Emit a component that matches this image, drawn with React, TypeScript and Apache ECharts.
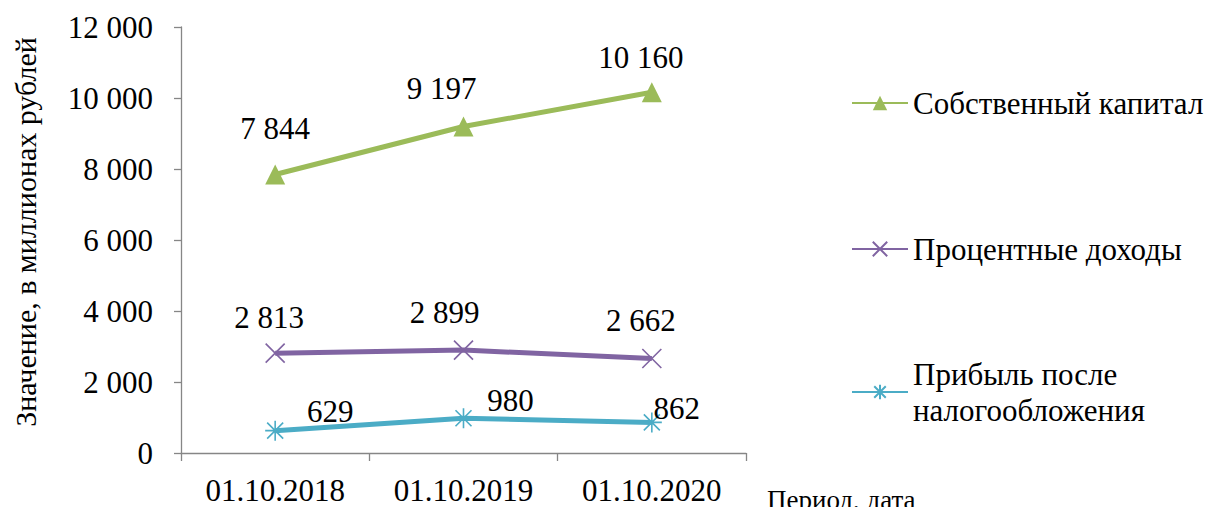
import React, { useEffect, useRef } from "react";
import * as echarts from "echarts";

const categories = ["01.10.2018", "01.10.2019", "01.10.2020"];
const seriesNames = ["Собственный капитал", "Процентные доходы", "Прибыль после налогообложения"];
const equity = [7844, 9197, 10160];
const interestIncome = [2813, 2899, 2662];
const netProfit = [629, 980, 862];
const yTicks = { min: 0, max: 12000, interval: 2000 };
const yAxisTitle = "Значение, в миллионах рублей";
const xAxisTitle = "Период, дата";

// label offsets (layout only), relative to each point
const equityLabelOffsets = [[0, -46], [-22, -38], [-11, -35]];
const interestLabelOffsets = [[-6, -36], [-19, -38], [-11, -38]];
const profitLabelOffsets = [[55, -19], [47, -18], [25, -14]];

const FONT = "Liberation Serif";
const FS = 31;
const GREEN = "#9BBB59";
const PURPLE = "#8064A2";
const CYAN = "#4BACC6";
const AXIS = "#868686";

const fmt = (v: number) => String(v).replace(/\B(?=(\d{3})+(?!\d))/g, " ");

function build(values: number[], offsets: number[][]) {
  return values.map((v, i) => ({
    value: v,
    label: { offset: offsets[i] },
  }));
}

export default function App() {
  const ref = useRef<HTMLDivElement>(null);
  useEffect(() => {
    if (!ref.current) return;
    const chart = echarts.init(ref.current, null, { renderer: "svg" });
    const labelCommon = {
      show: true,
      position: "inside" as const,
      fontFamily: FONT,
      fontSize: FS,
      color: "#000",
      formatter: (p: any) => fmt(p.value),
    };
    const legendText = { fontFamily: FONT, fontSize: FS, color: "#000", lineHeight: 36 };
    chart.setOption({
      animation: false,
      backgroundColor: "#fff",
      grid: { left: 181, right: 467, top: 27, bottom: 62 },
      xAxis: {
        type: "category",
        data: categories,
        boundaryGap: true,
        axisLine: { lineStyle: { color: AXIS, width: 1.3 } },
        axisTick: { show: true, length: 8, lineStyle: { color: AXIS, width: 1.3 } },
        axisLabel: { fontFamily: FONT, fontSize: FS, color: "#000", margin: 22 },
      },
      yAxis: {
        type: "value",
        min: yTicks.min,
        max: yTicks.max,
        interval: yTicks.interval,
        axisLine: { show: true, lineStyle: { color: AXIS, width: 1.3 } },
        axisTick: { show: true, length: 7, lineStyle: { color: AXIS, width: 1.3 } },
        splitLine: { show: false },
        axisLabel: {
          fontFamily: FONT,
          fontSize: FS,
          color: "#000",
          margin: 28,
          formatter: (v: number) => fmt(v),
        },
      },
      graphic: [
        {
          type: "text",
          x: 25,
          y: 232,
          rotation: Math.PI / 2,
          style: { text: yAxisTitle, fontFamily: FONT, fontSize: 30, fill: "#000", align: "center", verticalAlign: "middle" },
        },
        {
          type: "text",
          x: 767,
          y: 500,
          style: { text: xAxisTitle, fontFamily: FONT, fontSize: 27, fill: "#000", align: "left", verticalAlign: "middle" },
        },
      ],
      legend: [
        {
          data: [seriesNames[0]],
          orient: "vertical",
          left: 851,
          top: 85,
          padding: 0,
          itemWidth: 56,
          itemHeight: 18,
          itemGap: 0,
          textStyle: legendText,
        },
        {
          data: [seriesNames[1]],
          orient: "vertical",
          left: 851,
          top: 231,
          padding: 0,
          itemWidth: 56,
          itemHeight: 18,
          itemGap: 0,
          textStyle: legendText,
        },
        {
          data: [seriesNames[2]],
          orient: "vertical",
          left: 851,
          top: 338,
          padding: 0,
          itemWidth: 56,
          itemHeight: 18,
          itemGap: 0,
          formatter: () => "Прибыль после\nналогообложения",
          textStyle: { ...legendText, padding: [36, 0, 0, 0] },
        },
      ],
      series: [
        {
          name: seriesNames[0],
          type: "line",
          data: build(equity, equityLabelOffsets),
          symbol: "triangle",
          symbolSize: 20,
          lineStyle: { color: GREEN, width: 5 },
          itemStyle: { color: GREEN },
          label: labelCommon,
        },
        {
          name: seriesNames[1],
          type: "line",
          data: build(interestIncome, interestLabelOffsets),
          symbol: "path://M0,0L20,20M20,0L0,20",
          symbolSize: 19,
          lineStyle: { color: PURPLE, width: 5 },
          itemStyle: { color: PURPLE, borderColor: PURPLE, borderWidth: 1.6 },
          label: labelCommon,
        },
        {
          name: seriesNames[2],
          type: "line",
          data: build(netProfit, profitLabelOffsets),
          symbol: "path://M2,2L18,18M18,2L2,18M10,0L10,20M0,10L20,10",
          symbolSize: 20,
          lineStyle: { color: CYAN, width: 5 },
          itemStyle: { color: CYAN, borderColor: CYAN, borderWidth: 1.6 },
          label: labelCommon,
        },
      ],
    });
    return () => chart.dispose();
  }, []);
  return <div ref={ref} style={{ width: 1213, height: 515, margin: "-8px" }} />;
}
